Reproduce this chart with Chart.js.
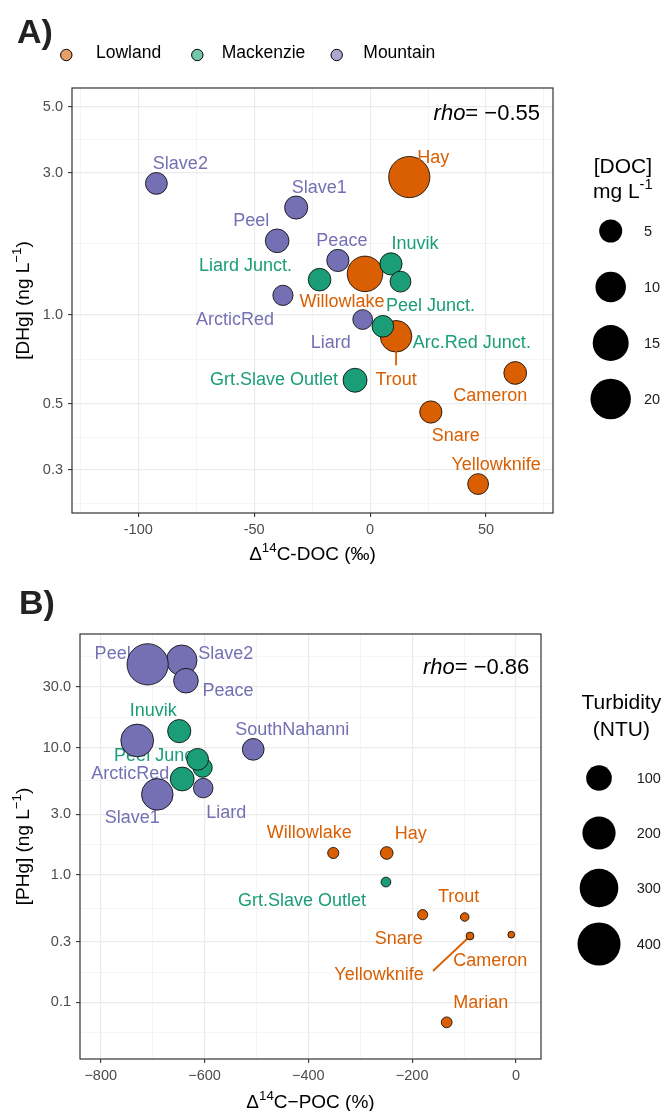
<!DOCTYPE html>
<html><head><meta charset="utf-8">
<script src="https://cdn.jsdelivr.net/npm/chart.js@4.4.1/dist/chart.umd.min.js"></script>
<style>html,body{margin:0;padding:0;background:#fff;}canvas{display:block;}</style>
</head><body>
<canvas id="cA" width="667" height="572" style="width:667px;height:572px"></canvas>
<canvas id="cB" width="667" height="539" style="width:667px;height:539px"></canvas>
<script>
const FONT = "'Liberation Sans', Arial, Helvetica, sans-serif";
const groups = ["Lowland", "Mackenzie", "Mountain"];
const groupColors = {Lowland: '#D95F02', Mackenzie: '#1B9E77', Mountain: '#7570B3'};
const groupKeyFill = {Lowland: '#E89F67', Mackenzie: '#76C5AD', Mountain: '#ACA9D1'};
const groupOrder = {Lowland: 2, Mountain: 1, Mackenzie: 0};

// ---------- Panel A data ----------
const sitesA = ["Slave2","Slave1","Peel","Peace","ArcticRed","Liard","Hay","Willowlake","Trout","Cameron","Snare","Yellowknife","Inuvik","Liard Junct.","Peel Junct.","Arc.Red Junct.","Grt.Slave Outlet"];
const groupA = ["Mountain","Mountain","Mountain","Mountain","Mountain","Mountain","Lowland","Lowland","Lowland","Lowland","Lowland","Lowland","Mackenzie","Mackenzie","Mackenzie","Mackenzie","Mackenzie"];
const d14cDOC = [-92.2,-31.9,-40.1,-13.9,-37.6,-3.2,16.9,-2.2,11.2,62.6,26.2,46.6,9.0,-21.8,13.1,5.5,-6.5];
const dhgA = [2.76,2.29,1.77,1.52,1.16,0.962,2.90,1.37,0.845,0.636,0.470,0.269,1.48,1.31,1.29,0.913,0.601];
const docA = [4.8,5.5,5.8,5.0,4.0,3.8,22.0,15.4,11.6,5.3,5.0,4.3,5.0,5.2,4.3,4.7,6.0];
const xTicksA = [-100,-50,0,50];
const xTickLabelsA = ["-100","-50","0","50"];
const xMinorA = [-125,-75,-25,25,75];
const yTicksA = [0.3,0.5,1,3,5];
const yTickLabelsA = ["0.3","0.5","1.0","3.0","5.0"];
const yMinorA = [0.232,0.387,0.707,1.732,3.873];
const docLegend = [5,10,15,20];
const rhoA = "= \u22120.55";

// ---------- Panel B data ----------
const sitesB = ["Slave2","Peel","Peace","ArcticRed","SouthNahanni","Slave1","Liard","Inuvik","Liard Junct.","Peel Junct.","Arc.Red Junct.","Grt.Slave Outlet","Willowlake","Hay","Snare","Trout","Yellowknife","Cameron","Marian"];
const groupB = ["Mountain","Mountain","Mountain","Mountain","Mountain","Mountain","Mountain","Mackenzie","Mackenzie","Mackenzie","Mackenzie","Mackenzie","Lowland","Lowland","Lowland","Lowland","Lowland","Lowland","Lowland"];
const d14cPOC = [-644,-709.6,-635.8,-729.7,-506.2,-691,-602.5,-648.7,-603.7,-613.3,-643,-250.5,-352,-249,-179.8,-98.8,-88.6,-9.1,-133.5];
const phgB = [48.6,45.2,33.6,11.4,9.71,4.30,4.82,13.5,6.97,8.11,5.68,0.881,1.49,1.49,0.488,0.468,0.332,0.340,0.0697];
const turbB = [172,375,98,206,71,187,54,84,52,71,90,9.4,13,18,10.4,6.8,5.4,3.9,12];
const xTicksB = [-800,-600,-400,-200,0];
const xTickLabelsB = ["\u2212800","\u2212600","\u2212400","\u2212200","0"];
const xMinorB = [-700,-500,-300,-100];
const yTicksB = [0.1,0.3,1,3,10,30];
const yTickLabelsB = ["0.1","0.3","1.0","3.0","10.0","30.0"];
const yMinorB = [0.0577,0.173,0.548,1.732,5.48,17.32,51.96];
const turbLegend = [100,200,300,400];
const rhoB = "= \u22120.86";

// ---------- size mappings (outer radius in px) ----------
const sizeDOC = v => 5.99 * Math.pow(v, 0.406);
const sizeTurb = v => 2.29 * Math.pow(v, 0.374);

// ---------- label placement (px offsets from point centre) ----------
const labelPosA = {"Slave2":[24,-21],"Hay":[24,-20],"Slave1":[23,-21],"Peel":[-26,-21],"Peace":[4,-21],"Inuvik":[24,-21],
  "Liard Junct.":[-74,-15],"Willowlake":[-23,27],"Peel Junct.":[30,23],"ArcticRed":[-48,23],"Liard":[-32,22],
  "Arc.Red Junct.":[89,15],"Trout":[0,42],"Grt.Slave Outlet":[-81,-2],"Cameron":[-25,22],"Snare":[25,23],"Yellowknife":[18,-21]};
const segA = {"Trout":[[0,15],[0,29]]};
const labelPosB = {"Peel":[-35,-12],"Slave2":[44,-8],"Peace":[42,9],"Inuvik":[-26,-22],"SouthNahanni":[39,-21],
  "Peel Junct.":[-39,-5],"ArcticRed":[-7,32],"Slave1":[-25,22],"Liard":[23,23],"Willowlake":[-24,-21],"Hay":[24,-20],
  "Grt.Slave Outlet":[-84,18],"Trout":[-6,-21],"Snare":[-24,23],"Cameron":[-21,25],"Yellowknife":[-91,38],"Marian":[34,-21]};
const segB = {"Yellowknife":[[-37,35],[-2,2]]};

// ---------- helpers ----------
function tickSetter(major, minor) {
  return s => {
    const t = major.map(v => ({value: v})).concat(minor.map(v => ({value: v, minor: true})));
    t.sort((a, b) => a.value - b.value);
    s.ticks = t;
  };
}
function tickLabeler(major, labels) {
  return v => { const i = major.findIndex(m => Math.abs(m - v) < 1e-9); return i >= 0 ? labels[i] : ''; };
}
const gridOpts = {
  color: c => (c.tick && c.tick.minor) ? '#EFEFEF' : '#EBEBEB',
  lineWidth: c => (c.tick && c.tick.minor) ? 0.6 : 1.2,
  tickColor: c => (c.tick && c.tick.minor) ? 'rgba(0,0,0,0)' : '#333333',
  tickLength: 4, tickWidth: 1.1, drawTicks: true
};
function makeDatasets(sites, grp, xs, ys, ss, sizeFn) {
  return ["Lowland", "Mountain", "Mackenzie"].map(g => {
    const data = [];
    sites.forEach((n, i) => { if (grp[i] === g) data.push({x: xs[i], y: ys[i], s: ss[i], name: n}); });
    return {
      label: g, data, order: groupOrder[g],
      backgroundColor: groupColors[g], borderColor: '#000',
      pointBackgroundColor: groupColors[g], pointBorderColor: '#000', pointBorderWidth: 0.8,
      pointRadius: c => c.raw ? sizeFn(c.raw.s) - 0.4 : 3,
      pointHoverRadius: c => c.raw ? sizeFn(c.raw.s) - 0.4 : 3,
      pointHoverBorderWidth: 0.8
    };
  });
}
function drawRich(ctx, parts, x, y, size, align, color) {
  const sub = size * 0.7;
  const fontOf = p => (p.it ? 'italic ' : '') + (p.sup ? sub : size) + 'px ' + FONT;
  let w = 0;
  parts.forEach(p => { ctx.font = fontOf(p); w += ctx.measureText(p.t).width; });
  let cx = align === 'center' ? x - w / 2 : (align === 'right' ? x - w : x);
  ctx.textAlign = 'left'; ctx.textBaseline = 'alphabetic'; ctx.fillStyle = color;
  parts.forEach(p => {
    ctx.font = fontOf(p);
    ctx.fillText(p.t, cx, p.sup ? y - size * 0.42 : y);
    cx += ctx.measureText(p.t).width;
  });
}
function drawPointLabels(chart, layout, segs) {
  const ctx = chart.ctx;
  ctx.save();
  chart.data.datasets.forEach((ds, di) => {
    const meta = chart.getDatasetMeta(di);
    meta.data.forEach((el, j) => {
      const p = ds.data[j];
      const off = layout[p.name];
      if (!off) return;
      const col = groupColors[ds.label];
      const sg = segs[p.name];
      if (sg) {
        ctx.strokeStyle = col; ctx.lineWidth = 1.8;
        ctx.beginPath();
        ctx.moveTo(el.x + sg[0][0], el.y + sg[0][1]);
        ctx.lineTo(el.x + sg[1][0], el.y + sg[1][1]);
        ctx.stroke();
      }
      ctx.font = '18px ' + FONT; ctx.fillStyle = col;
      ctx.textAlign = 'center'; ctx.textBaseline = 'alphabetic';
      ctx.fillText(p.name, el.x + off[0], el.y + off[1] + 0.358 * 18);
    });
  });
  ctx.restore();
}
function drawBorder(chart) {
  const a = chart.chartArea, ctx = chart.ctx;
  ctx.save(); ctx.strokeStyle = '#333333'; ctx.lineWidth = 1.2;
  ctx.strokeRect(a.left, a.top, a.right - a.left, a.bottom - a.top);
  ctx.restore();
}
function drawSizeLegend(ctx, title1, title2parts, cx, ty1, ty2, circX, ys, vals, sizeFn, labX) {
  ctx.save();
  ctx.fillStyle = '#000'; ctx.font = '21px ' + FONT; ctx.textAlign = 'center'; ctx.textBaseline = 'alphabetic';
  ctx.fillText(title1, cx, ty1 + 0.358 * 21);
  drawRich(ctx, title2parts, cx, ty2 + 0.358 * 21, 21, 'center', '#000');
  vals.forEach((v, i) => {
    ctx.beginPath(); ctx.arc(circX, ys[i], sizeFn(v), 0, Math.PI * 2); ctx.fillStyle = '#000'; ctx.fill();
    ctx.font = '14.5px ' + FONT; ctx.fillStyle = '#1a1a1a'; ctx.textAlign = 'left'; ctx.textBaseline = 'middle';
    ctx.fillText(String(v), labX, ys[i] + 1);
  });
  ctx.restore();
}
function yTitle(ctx, parts, x, y) {
  ctx.save(); ctx.translate(x, y); ctx.rotate(-Math.PI / 2);
  drawRich(ctx, parts, 0, 0.358 * 19, 19, 'center', '#000');
  ctx.restore();
}
function whiteBg(chart) {
  const ctx = chart.ctx; ctx.save(); ctx.fillStyle = '#fff'; ctx.fillRect(0, 0, chart.width, chart.height); ctx.restore();
}
function baseScales(xmin, xmax, xT, xL, xM, ymin, ymax, yT, yL, yM, yW, xH) {
  return {
    x: {
      type: 'linear', min: xmin, max: xmax,
      afterBuildTicks: tickSetter(xT, xM),
      afterFit: s => { s.height = xH; },
      ticks: {callback: tickLabeler(xT, xL), autoSkip: false, maxRotation: 0, color: '#4D4D4D', font: {family: FONT, size: 14.5}, padding: 4},
      grid: gridOpts, border: {display: false}
    },
    y: {
      type: 'logarithmic', min: ymin, max: ymax,
      afterBuildTicks: tickSetter(yT, yM),
      afterFit: s => { s.width = yW; },
      ticks: {callback: tickLabeler(yT, yL), autoSkip: false, color: '#4D4D4D', font: {family: FONT, size: 14.5}, padding: 5},
      grid: gridOpts, border: {display: false}
    }
  };
}

// ---------- Panel A ----------
const plugA = {
  id: 'decorA',
  beforeDraw: whiteBg,
  afterDatasetsDraw(chart) { drawPointLabels(chart, labelPosA, segA); },
  afterDraw(chart) {
    const ctx = chart.ctx;
    drawBorder(chart);
    ctx.save();
    // tag
    ctx.font = 'bold 34px ' + FONT; ctx.fillStyle = '#222'; ctx.textAlign = 'left'; ctx.textBaseline = 'alphabetic';
    ctx.fillText('A)', 17, 43);
    // group legend
    const keyX = [66.3, 197.3, 336.7], txtX = [96, 221.7, 363.3];
    groups.forEach((g, i) => {
      ctx.beginPath(); ctx.arc(keyX[i], 55, 5.7, 0, Math.PI * 2);
      ctx.fillStyle = groupKeyFill[g]; ctx.fill(); ctx.lineWidth = 1; ctx.strokeStyle = '#000'; ctx.stroke();
      ctx.font = '17.5px ' + FONT; ctx.fillStyle = '#000'; ctx.textBaseline = 'alphabetic'; ctx.textAlign = 'left';
      ctx.fillText(g, txtX[i], 52 + 0.358 * 17.5);
    });
    ctx.restore();
    // rho
    drawRich(ctx, [{t: 'rho', it: true}, {t: rhoA}], 540, 112 + 0.358 * 22, 22, 'right', '#000');
    // axis titles
    drawRich(ctx, [{t: '\u0394'}, {t: '14', sup: true}, {t: 'C-DOC (\u2030)'}], 312.5, 553 + 0.358 * 19, 19, 'center', '#000');
    yTitle(ctx, [{t: '[DHg] (ng L'}, {t: '\u22121', sup: true}, {t: ')'}], 22, 300.5);
    // size legend
    drawSizeLegend(ctx, '[DOC]', [{t: 'mg L'}, {t: '-1', sup: true}], 622.8, 165, 190, 610.7, [231, 287, 343, 399], docLegend, sizeDOC, 644);
  }
};
new Chart(document.getElementById('cA'), {
  type: 'scatter',
  data: {datasets: makeDatasets(sitesA, groupA, d14cDOC, dhgA, docA, sizeDOC)},
  options: {
    responsive: false, animation: false, devicePixelRatio: 1,
    layout: {padding: {left: 0, top: 88, right: 114, bottom: 0}},
    plugins: {legend: {display: false}, tooltip: {enabled: false}, title: {display: false}},
    events: [],
    scales: baseScales(-128.6, 78.9, xTicksA, xTickLabelsA, xMinorA, 0.215, 5.78, yTicksA, yTickLabelsA, yMinorA, 72, 59)
  },
  plugins: [plugA]
});

// ---------- Panel B ----------
const plugB = {
  id: 'decorB',
  beforeDraw: whiteBg,
  beforeDatasetsDraw(chart) { drawPointLabels(chart, labelPosB, segB); },
  afterDraw(chart) {
    const ctx = chart.ctx;
    drawBorder(chart);
    ctx.save();
    ctx.font = 'bold 34px ' + FONT; ctx.fillStyle = '#222'; ctx.textAlign = 'left'; ctx.textBaseline = 'alphabetic';
    ctx.fillText('B)', 19, 42);
    ctx.restore();
    drawRich(ctx, [{t: 'rho', it: true}, {t: rhoB}], 529.3, 93.7 + 0.358 * 22, 22, 'right', '#000');
    drawRich(ctx, [{t: '\u0394'}, {t: '14', sup: true}, {t: 'C\u2212POC (%)'}], 310.5, 529 + 0.358 * 19, 19, 'center', '#000');
    yTitle(ctx, [{t: '[PHg] (ng L'}, {t: '\u22121', sup: true}, {t: ')'}], 22, 274.5);
    drawSizeLegend(ctx, 'Turbidity', [{t: '(NTU)'}], 621.3, 129.7, 156.3, 599, [206, 261, 316, 372], turbLegend, sizeTurb, 636.7);
  }
};
new Chart(document.getElementById('cB'), {
  type: 'scatter',
  data: {datasets: makeDatasets(sitesB, groupB, d14cPOC, phgB, turbB, sizeTurb)},
  options: {
    responsive: false, animation: false, devicePixelRatio: 1,
    layout: {padding: {left: 0, top: 62, right: 126, bottom: 0}},
    plugins: {legend: {display: false}, tooltip: {enabled: false}, title: {display: false}},
    events: [],
    scales: baseScales(-839.9, 48.2, xTicksB, xTickLabelsB, xMinorB, 0.0359, 78.2, yTicksB, yTickLabelsB, yMinorB, 80, 52)
  },
  plugins: [plugB]
});
</script>
</body></html>
